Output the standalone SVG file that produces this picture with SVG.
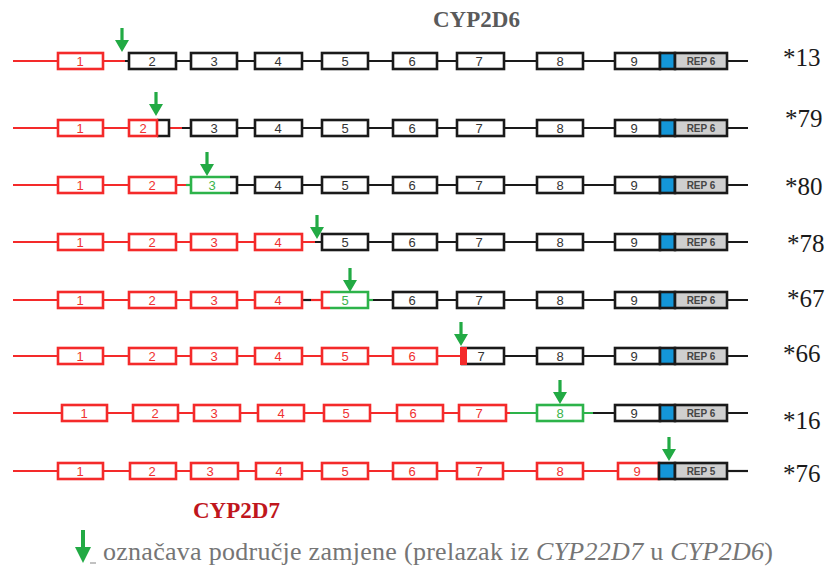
<svg xmlns="http://www.w3.org/2000/svg" xmlns:xlink="http://www.w3.org/1999/xlink" width="825" height="569" viewBox="0 0 825 569">
<style>
  .ln { stroke-width: 2.2; fill: none; }
  .lr { stroke: #f42a2a; }
  .lk { stroke: #1a1a1a; }
  .lg { stroke: #2db34a; }
  .bx { fill: #ffffff; stroke-width: 2.6; }
  .br { stroke: #f42a2a; }
  .bk { stroke: #1a1a1a; }
  .bg { stroke: #2db34a; }
  .pt { fill: none; stroke-width: 2.6; }
  .n { font-family: "Liberation Sans", Arial, sans-serif; font-size: 13px; text-anchor: middle; }
  .nr { fill: #f03030; }
  .nk { fill: #333333; }
  .ng { fill: #3ab34a; }
  .blue { fill: #1496d8; stroke: #1a1a1a; stroke-width: 2.6; }
  .rep { fill: #cfcfcf; stroke: #1a1a1a; stroke-width: 2.6; }
  .rept { font-family: "Liberation Sans", Arial, sans-serif; font-size: 10px; font-weight: bold; fill: #454545; text-anchor: middle; }
  .lab { font-family: "Liberation Serif", "Times New Roman", serif; font-size: 25px; fill: #1a1a1a; }
  .ttl { font-family: "Liberation Serif", "Times New Roman", serif; font-size: 23px; font-weight: bold; }
  .leg { font-family: "Liberation Serif", "Times New Roman", serif; font-size: 26px; fill: #757575; }
  .arrow { fill: #22aa44; }
</style>
<defs>
  <path id="arr" d="M-1.6,-24 H1.6 V-12 H7 L0,0 L-7,-12 H-1.6 Z"/>
</defs>

<text class="ttl" x="433" y="27" fill="#5a5a5a">CYP2D6</text>

<!-- Row *13 -->
<g id="row-13">
  <line class="ln lr" x1="13" y1="61" x2="125" y2="61"/>
  <line class="ln lk" x1="125" y1="61" x2="748" y2="61"/>
  <rect class="bx br" x="58" y="53" width="45" height="16"/><text class="n nr" x="80" y="66">1</text>
  <rect class="bx bk" x="129" y="53" width="47" height="16"/><text class="n nk" x="152" y="66">2</text>
  <rect class="bx bk" x="191" y="53" width="46" height="16"/><text class="n nk" x="214" y="66">3</text>
  <rect class="bx bk" x="255" y="53" width="47" height="16"/><text class="n nk" x="278" y="66">4</text>
  <rect class="bx bk" x="322" y="53" width="46" height="16"/><text class="n nk" x="345" y="66">5</text>
  <rect class="bx bk" x="393" y="53" width="44" height="16"/><text class="n nk" x="412" y="66">6</text>
  <rect class="bx bk" x="457" y="53" width="47" height="16"/><text class="n nk" x="479" y="66">7</text>
  <rect class="bx bk" x="537" y="53" width="46" height="16"/><text class="n nk" x="560" y="66">8</text>
  <rect class="bx bk" x="615" y="53" width="45" height="16"/><text class="n nk" x="634" y="66">9</text>
  <rect class="blue" x="660" y="53" width="15" height="16"/>
  <rect class="rep" x="675" y="53" width="52" height="16"/><text class="rept" x="701" y="65">REP 6</text>
  <text class="lab" x="783" y="66">*13</text>
</g>

<!-- Row *79 -->
<g id="row-79">
  <line class="ln lr" x1="13" y1="128" x2="182" y2="128"/>
  <line class="ln lk" x1="182" y1="128" x2="748" y2="128"/>
  <rect class="bx br" x="58" y="120" width="45" height="16"/><text class="n nr" x="80" y="133">1</text>
  <rect x="129" y="120" width="40" height="16" fill="#ffffff"/>
  <path class="pt bk" d="M157,120 H169 V136 H157"/>
  <rect class="bx br" x="129" y="120" width="28" height="16"/><text class="n nr" x="143" y="133">2</text>
  <rect class="bx bk" x="191" y="120" width="46" height="16"/><text class="n nk" x="214" y="133">3</text>
  <rect class="bx bk" x="255" y="120" width="47" height="16"/><text class="n nk" x="278" y="133">4</text>
  <rect class="bx bk" x="322" y="120" width="46" height="16"/><text class="n nk" x="345" y="133">5</text>
  <rect class="bx bk" x="393" y="120" width="44" height="16"/><text class="n nk" x="412" y="133">6</text>
  <rect class="bx bk" x="457" y="120" width="47" height="16"/><text class="n nk" x="479" y="133">7</text>
  <rect class="bx bk" x="537" y="120" width="46" height="16"/><text class="n nk" x="560" y="133">8</text>
  <rect class="bx bk" x="615" y="120" width="45" height="16"/><text class="n nk" x="634" y="133">9</text>
  <rect class="blue" x="660" y="120" width="15" height="16"/>
  <rect class="rep" x="675" y="120" width="52" height="16"/><text class="rept" x="701" y="132">REP 6</text>
  <text class="lab" x="785" y="127">*79</text>
</g>

<!-- Row *80 -->
<g id="row-80">
  <line class="ln lr" x1="13" y1="185" x2="186" y2="185"/>
  <line class="ln lg" x1="186" y1="185" x2="191" y2="185"/>
  <line class="ln lk" x1="237" y1="185" x2="748" y2="185"/>
  <rect class="bx br" x="58" y="177" width="45" height="16"/><text class="n nr" x="80" y="190">1</text>
  <rect class="bx br" x="129" y="177" width="47" height="16"/><text class="n nr" x="152" y="190">2</text>
  <rect x="191" y="177" width="46" height="16" fill="#ffffff"/>
  <path class="pt bg" d="M230,177 H191 V193 H230"/>
  <path class="pt bk" d="M230,177 H237 V193 H230"/>
  <text class="n ng" x="212" y="190">3</text>
  <rect class="bx bk" x="255" y="177" width="47" height="16"/><text class="n nk" x="278" y="190">4</text>
  <rect class="bx bk" x="322" y="177" width="46" height="16"/><text class="n nk" x="345" y="190">5</text>
  <rect class="bx bk" x="393" y="177" width="44" height="16"/><text class="n nk" x="412" y="190">6</text>
  <rect class="bx bk" x="457" y="177" width="47" height="16"/><text class="n nk" x="479" y="190">7</text>
  <rect class="bx bk" x="537" y="177" width="46" height="16"/><text class="n nk" x="560" y="190">8</text>
  <rect class="bx bk" x="615" y="177" width="45" height="16"/><text class="n nk" x="634" y="190">9</text>
  <rect class="blue" x="660" y="177" width="15" height="16"/>
  <rect class="rep" x="675" y="177" width="52" height="16"/><text class="rept" x="701" y="189">REP 6</text>
  <text class="lab" x="785" y="195">*80</text>
</g>

<!-- Row *78 -->
<g id="row-78">
  <line class="ln lr" x1="13" y1="242" x2="315" y2="242"/>
  <line class="ln lk" x1="315" y1="242" x2="748" y2="242"/>
  <rect class="bx br" x="58" y="234" width="45" height="16"/><text class="n nr" x="80" y="247">1</text>
  <rect class="bx br" x="129" y="234" width="47" height="16"/><text class="n nr" x="152" y="247">2</text>
  <rect class="bx br" x="191" y="234" width="46" height="16"/><text class="n nr" x="214" y="247">3</text>
  <rect class="bx br" x="255" y="234" width="47" height="16"/><text class="n nr" x="278" y="247">4</text>
  <rect class="bx bk" x="322" y="234" width="46" height="16"/><text class="n nk" x="345" y="247">5</text>
  <rect class="bx bk" x="393" y="234" width="44" height="16"/><text class="n nk" x="412" y="247">6</text>
  <rect class="bx bk" x="457" y="234" width="47" height="16"/><text class="n nk" x="479" y="247">7</text>
  <rect class="bx bk" x="537" y="234" width="46" height="16"/><text class="n nk" x="560" y="247">8</text>
  <rect class="bx bk" x="615" y="234" width="45" height="16"/><text class="n nk" x="634" y="247">9</text>
  <rect class="blue" x="660" y="234" width="15" height="16"/>
  <rect class="rep" x="675" y="234" width="52" height="16"/><text class="rept" x="701" y="246">REP 6</text>
  <text class="lab" x="787" y="252">*78</text>
</g>

<!-- Row *67 -->
<g id="row-67">
  <line class="ln lr" x1="13" y1="300" x2="302" y2="300"/>
  <line class="ln lk" x1="302" y1="300" x2="311" y2="300"/>
  <line class="ln lr" x1="311" y1="300" x2="322" y2="300"/>
  <line class="ln lg" x1="368" y1="300" x2="373" y2="300"/>
  <line class="ln lk" x1="373" y1="300" x2="748" y2="300"/>
  <rect class="bx br" x="58" y="292" width="45" height="16"/><text class="n nr" x="80" y="305">1</text>
  <rect class="bx br" x="129" y="292" width="47" height="16"/><text class="n nr" x="152" y="305">2</text>
  <rect class="bx br" x="191" y="292" width="46" height="16"/><text class="n nr" x="214" y="305">3</text>
  <rect class="bx br" x="255" y="292" width="47" height="16"/><text class="n nr" x="278" y="305">4</text>
  <rect x="322" y="292" width="46" height="16" fill="#ffffff"/>
  <path class="pt br" d="M330,292 H322 V308 H330"/>
  <path class="pt bg" d="M330,292 H368 V308 H330"/>
  <text class="n ng" x="345" y="305">5</text>
  <rect class="bx bk" x="393" y="292" width="44" height="16"/><text class="n nk" x="412" y="305">6</text>
  <rect class="bx bk" x="457" y="292" width="47" height="16"/><text class="n nk" x="479" y="305">7</text>
  <rect class="bx bk" x="537" y="292" width="46" height="16"/><text class="n nk" x="560" y="305">8</text>
  <rect class="bx bk" x="615" y="292" width="45" height="16"/><text class="n nk" x="634" y="305">9</text>
  <rect class="blue" x="660" y="292" width="15" height="16"/>
  <rect class="rep" x="675" y="292" width="52" height="16"/><text class="rept" x="701" y="304">REP 6</text>
  <text class="lab" x="787" y="307">*67</text>
</g>

<!-- Row *66 -->
<g id="row-66">
  <line class="ln lr" x1="13" y1="356" x2="462" y2="356"/>
  <line class="ln lk" x1="504" y1="356" x2="748" y2="356"/>
  <rect class="bx br" x="58" y="348" width="45" height="16"/><text class="n nr" x="80" y="361">1</text>
  <rect class="bx br" x="129" y="348" width="47" height="16"/><text class="n nr" x="152" y="361">2</text>
  <rect class="bx br" x="191" y="348" width="46" height="16"/><text class="n nr" x="214" y="361">3</text>
  <rect class="bx br" x="255" y="348" width="47" height="16"/><text class="n nr" x="278" y="361">4</text>
  <rect class="bx br" x="322" y="348" width="46" height="16"/><text class="n nr" x="345" y="361">5</text>
  <rect class="bx br" x="393" y="348" width="44" height="16"/><text class="n nr" x="412" y="361">6</text>
  <rect class="bx bk" x="462" y="348" width="42" height="16"/><text class="n nk" x="481" y="361">7</text>
  <rect x="460" y="347" width="7" height="18" fill="#f42a2a"/>
  <rect class="bx bk" x="537" y="348" width="46" height="16"/><text class="n nk" x="560" y="361">8</text>
  <rect class="bx bk" x="615" y="348" width="45" height="16"/><text class="n nk" x="634" y="361">9</text>
  <rect class="blue" x="660" y="348" width="15" height="16"/>
  <rect class="rep" x="675" y="348" width="52" height="16"/><text class="rept" x="701" y="360">REP 6</text>
  <text class="lab" x="783" y="362">*66</text>
</g>

<!-- Row *16 -->
<g id="row-16">
  <line class="ln lr" x1="13" y1="413" x2="510" y2="413"/>
  <line class="ln lg" x1="510" y1="413" x2="593" y2="413"/>
  <line class="ln lk" x1="593" y1="413" x2="748" y2="413"/>
  <rect class="bx br" x="62" y="405" width="45" height="16"/><text class="n nr" x="84" y="418">1</text>
  <rect class="bx br" x="133" y="405" width="45" height="16"/><text class="n nr" x="155" y="418">2</text>
  <rect class="bx br" x="194" y="405" width="46" height="16"/><text class="n nr" x="214" y="418">3</text>
  <rect class="bx br" x="258" y="405" width="46" height="16"/><text class="n nr" x="281" y="418">4</text>
  <rect class="bx br" x="324" y="405" width="46" height="16"/><text class="n nr" x="346" y="418">5</text>
  <rect class="bx br" x="397" y="405" width="46" height="16"/><text class="n nr" x="413" y="418">6</text>
  <rect class="bx br" x="459" y="405" width="47" height="16"/><text class="n nr" x="479" y="418">7</text>
  <rect class="bx bg" x="537" y="405" width="46" height="16"/><text class="n ng" x="560" y="418">8</text>
  <rect class="bx bk" x="615" y="405" width="45" height="16"/><text class="n nk" x="634" y="418">9</text>
  <rect class="blue" x="660" y="405" width="15" height="16"/>
  <rect class="rep" x="675" y="405" width="52" height="16"/><text class="rept" x="701" y="417">REP 6</text>
  <text class="lab" x="783" y="429">*16</text>
</g>

<!-- Row *76 -->
<g id="row-76">
  <line class="ln lr" x1="13" y1="471" x2="659" y2="471"/>
  <line class="ln lk" x1="727" y1="471" x2="748" y2="471"/>
  <rect class="bx br" x="58" y="463" width="45" height="16"/><text class="n nr" x="80" y="476">1</text>
  <rect class="bx br" x="130" y="463" width="46" height="16"/><text class="n nr" x="152" y="476">2</text>
  <rect class="bx br" x="191" y="463" width="47" height="16"/><text class="n nr" x="210" y="476">3</text>
  <rect class="bx br" x="256" y="463" width="46" height="16"/><text class="n nr" x="279" y="476">4</text>
  <rect class="bx br" x="322" y="463" width="46" height="16"/><text class="n nr" x="345" y="476">5</text>
  <rect class="bx br" x="393" y="463" width="44" height="16"/><text class="n nr" x="412" y="476">6</text>
  <rect class="bx br" x="457" y="463" width="46" height="16"/><text class="n nr" x="479" y="476">7</text>
  <rect class="bx br" x="537" y="463" width="46" height="16"/><text class="n nr" x="560" y="476">8</text>
  <rect class="bx br" x="618" y="463" width="41" height="16"/><text class="n nr" x="637" y="476">9</text>
  <rect class="blue" x="659" y="463" width="16" height="16"/>
  <rect class="rep" x="675" y="463" width="52" height="16"/><text class="rept" x="701" y="475">REP 5</text>
  <text class="lab" x="783" y="482">*76</text>
</g>

<!-- Breakpoint arrows -->
<g id="connectors">
  <use xlink:href="#arr" class="arrow" x="122" y="52"/>
  <use xlink:href="#arr" class="arrow" x="156" y="116"/>
  <use xlink:href="#arr" class="arrow" x="207" y="176"/>
  <use xlink:href="#arr" class="arrow" x="317" y="239"/>
  <use xlink:href="#arr" class="arrow" x="350" y="292"/>
  <use xlink:href="#arr" class="arrow" x="461" y="346"/>
  <use xlink:href="#arr" class="arrow" x="560" y="404"/>
  <use xlink:href="#arr" class="arrow" x="669" y="461"/>
</g>

<text class="ttl" x="193" y="518" fill="#c0161c">CYP2D7</text>

<!-- Legend -->
<g id="legend">
  <path class="arrow" d="M81,530 H85 V547 H91 L83,563 L75,547 H81 Z"/>
  <line x1="90" y1="563" x2="96" y2="563" stroke="#999999" stroke-width="1.2"/>
  <text class="leg" x="103" y="560" textLength="670" lengthAdjust="spacing">označava područje zamjene (prelazak iz <tspan font-style="italic">CYP22D7</tspan> u <tspan font-style="italic">CYP2D6</tspan>)</text>
</g>
</svg>
